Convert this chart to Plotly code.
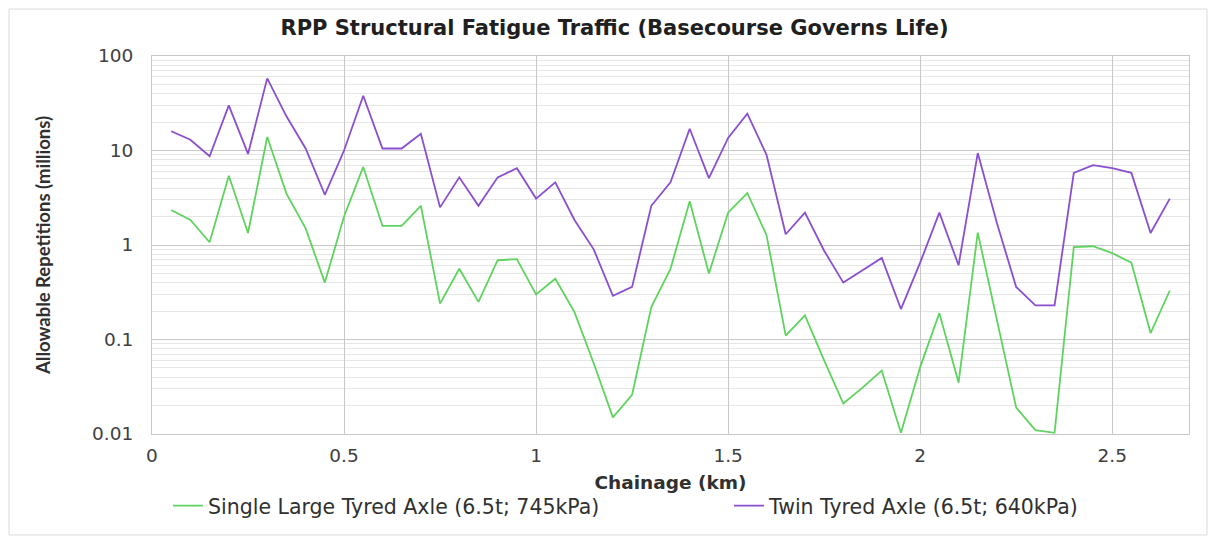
import plotly.graph_objects as go

chainage = [0.05, 0.1, 0.15, 0.2, 0.25, 0.3, 0.35, 0.4, 0.45, 0.5, 0.55, 0.6, 0.65, 0.7, 0.75, 0.8,
            0.85, 0.9, 0.95, 1.0, 1.05, 1.1, 1.15, 1.2, 1.25, 1.3, 1.35, 1.4, 1.45, 1.5, 1.55, 1.6,
            1.65, 1.7, 1.75, 1.8, 1.85, 1.9, 1.95, 2.0, 2.05, 2.1, 2.15, 2.2, 2.25, 2.3, 2.35, 2.4,
            2.45, 2.5, 2.55, 2.6, 2.65]

single_axle = [2.35, 1.84, 1.07, 5.4, 1.34, 13.9, 3.5, 1.5, 0.40, 2.0, 6.7, 1.59, 1.59, 2.6, 0.24, 0.56,
               0.25, 0.69, 0.71, 0.30, 0.44, 0.195, 0.056, 0.015, 0.026, 0.22, 0.56, 2.9, 0.50, 2.2, 3.55, 1.27,
               0.11, 0.18, 0.06, 0.021, 0.031, 0.047, 0.0103, 0.051, 0.19, 0.035, 1.35, 0.16, 0.019, 0.011, 0.0103, 0.95,
               0.97, 0.82, 0.65, 0.117, 0.33]

twin_axle = [16, 13, 8.7, 30, 9.2, 58, 23, 10.5, 3.4, 10, 38, 10.5, 10.5, 15, 2.5, 5.2,
             2.6, 5.2, 6.5, 3.1, 4.6, 1.84, 0.9, 0.29, 0.36, 2.6, 4.6, 17, 5.1, 13.6, 24.5, 9,
             1.3, 2.2, 0.87, 0.40, 0.54, 0.73, 0.21, 0.65, 2.2, 0.61, 9.4, 1.7, 0.36, 0.23, 0.23, 5.8,
             7.0, 6.5, 5.8, 1.34, 3.1]

x_ticks = [0, 0.5, 1, 1.5, 2, 2.5]
y_ticks = [0.01, 0.1, 1, 10, 100]
y_tick_labels = ["0.01", "0.1", "1", "10", "100"]

WIDE = "DejaVu Sans, sans-serif"
NARROW = "Lato, Open Sans, sans-serif"

# the page body adds an 8px offset; figure is sized to fill the rest
W, H = 1209, 529
L, R, T, B = 144, 28, 48, 103
PW, PH = W - L - R, H - T - B

fig = go.Figure()
fig.add_trace(go.Scatter(x=chainage, y=single_axle, mode="lines",
                         name="Single Large Tyred Axle (6.5t; 745kPa)",
                         line=dict(color="#5fd35f", width=1.8), legend="legend"))
fig.add_trace(go.Scatter(x=chainage, y=twin_axle, mode="lines",
                         name="Twin Tyred Axle (6.5t; 640kPa)",
                         line=dict(color="#8a4fd0", width=1.8), legend="legend2"))

fig.update_layout(
    width=W, height=H,
    margin=dict(l=L, r=R, t=T, b=B, autoexpand=False),
    paper_bgcolor="white", plot_bgcolor="white",
    font=dict(family=WIDE, size=18, color="#404040"),
    title=dict(text="<b>RPP Structural Fatigue Traffic (Basecourse Governs Life)</b>",
               x=(614.5 - 8) / W, xanchor="center", y=1 - 20 / H, yanchor="middle",
               font=dict(family=WIDE, size=21, color="#202020")),
    legend=dict(orientation="h", x=(168 - 152) / PW, xanchor="left", y=-0.19, yanchor="middle",
                font=dict(family=WIDE, size=20.5, color="#303030"), bgcolor="rgba(0,0,0,0)"),
    legend2=dict(orientation="h", x=(729 - 152) / PW, xanchor="left", y=-0.19, yanchor="middle",
                 font=dict(family=WIDE, size=20.5, color="#303030"), bgcolor="rgba(0,0,0,0)"),
    showlegend=True,
)

fig.update_xaxes(range=[0, 2.7], tickvals=x_ticks, ticktext=[str(t) for t in x_ticks],
                 showgrid=True, gridcolor="#c8c8c8", gridwidth=1,
                 showline=True, linecolor="#c8c8c8", mirror=True, zeroline=False,
                 ticks="", ticklabelstandoff=5, automargin=False,
                 tickfont=dict(family=WIDE, size=18.5, color="#404040"),
                 title=dict(text="<b>Chainage (km)</b>", font=dict(family=WIDE, size=18.5, color="#303030"),
                            standoff=10))

fig.update_yaxes(type="log", range=[-2, 2], tickvals=y_ticks, ticktext=y_tick_labels,
                 showgrid=True, gridcolor="#c8c8c8", gridwidth=1,
                 minor=dict(dtick="D1", showgrid=True, gridcolor="#e6e6e6", gridwidth=1, ticks=""),
                 showline=True, linecolor="#c8c8c8", mirror=True, zeroline=False,
                 ticks="", ticklabelstandoff=14, automargin=False,
                 tickfont=dict(family=WIDE, size=18.5, color="#404040"),
                 title=dict(text="<b>Allowable Repetitions (millions)</b>",
                            font=dict(family=NARROW, size=18.5, color="#303030"), standoff=36))

fig.add_shape(type="rect", xref="paper", yref="paper",
              x0=(1 - L) / PW, x1=(1199 - L) / PW,
              y0=(T + PH - 527) / PH, y1=(T + PH - 1) / PH,
              line=dict(color="#d9d9d9", width=1), fillcolor="rgba(0,0,0,0)", layer="below")

fig.write_html("out.html")
